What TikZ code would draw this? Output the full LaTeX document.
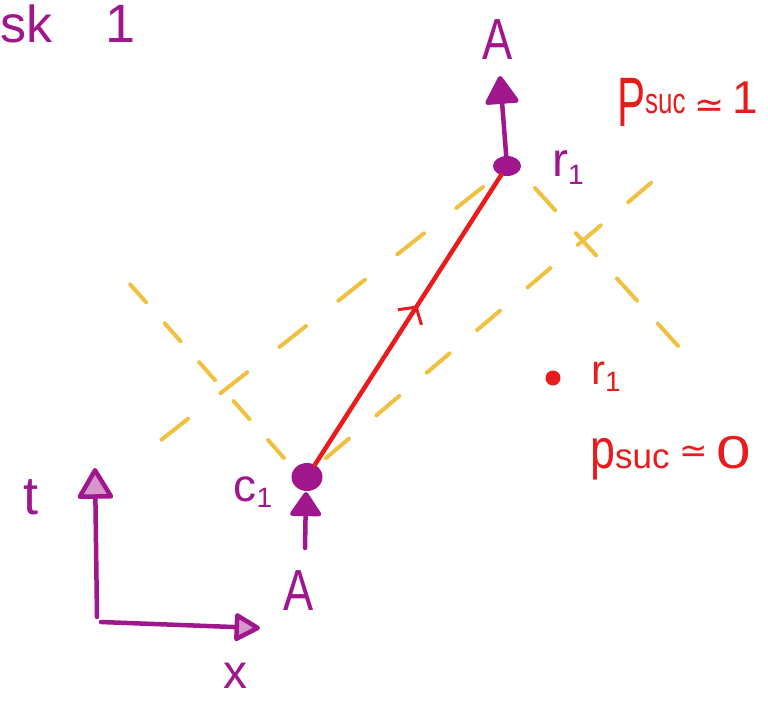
\documentclass[tikz,border=0pt]{standalone}
\usepackage{fontspec}
\setmainfont{Liberation Sans}
\newfontfamily\symfont{DejaVu Sans}
\usetikzlibrary{arrows.meta,decorations.markings,shapes.geometric}
\definecolor{purp}{RGB}{160,22,140}
\definecolor{inkred}{RGB}{232,28,28}
\definecolor{cone}{RGB}{240,192,64}
\newcommand{\lowidx}[2]{\raisebox{-#2}{\fontsize{28}{28}\selectfont #1}}
\newcommand{\fsz}[1]{\fontsize{#1}{#1}\selectfont}
\newcommand{\narrowtxt}[2]{\scalebox{#1}[1]{#2}}
\begin{document}
\begin{tikzpicture}[x=1pt,y=-1pt,
  hand/.style={line width=4.5pt,line cap=round,line join=round},
  purpline/.style={hand,draw=purp},
  lbl/.style={inner sep=0pt,text=purp},
  redlbl/.style={inner sep=0pt,text=inkred},
  conedash/.style={draw=cone,line width=4pt,line cap=round,dash pattern=#1},
]
\useasboundingbox (0,0) rectangle (768,702);

% yellow light-cone edges
\coordinate (flA) at (284,458); \coordinate (flB) at (129,283);
\coordinate (frA) at (326,458); \coordinate (frB) at (652,182);
\coordinate (blA) at (483,187); \coordinate (blB) at (161,440);
\coordinate (brA) at (535,188); \coordinate (brB) at (679,347);
\draw[conedash={on 24pt off 28pt}] (flA) -- (flB);
\draw[conedash={on 30pt off 36pt}] (frA) -- (frB);
\draw[conedash={on 34pt off 41pt}] (blA) -- (blB);
\draw[conedash={on 30pt off 31pt}] (brA) -- (brB);

% events
\coordinate (bstart) at (305,548);
\node[ellipse,fill=purp,minimum width=28pt,minimum height=20pt,inner sep=0pt] (rtop) at (507,166) {};
\draw[purpline,-{Triangle[round,length=26pt,width=34pt]}] (bstart) -- (306,492);
\node[ellipse,fill=purp,minimum width=31pt,minimum height=28pt,inner sep=0pt] (cbot) at (307,477) {};
\coordinate (toptip) at (500,76);
\draw[purpline,-{Triangle[round,length=30pt,width=36pt]}] (rtop) -- (toptip);

% red worldline
\draw[hand,draw=inkred,postaction={decorate,decoration={markings,
  mark=at position 0.55 with {\arrow[inkred,line width=3pt]{Straight Barb[length=12pt,width=28pt]}}}}]
  (cbot) -- (rtop);

% red event
\node[circle,fill=inkred,minimum size=15pt,inner sep=0pt] (rred) at (553,378) {};

% axes
\coordinate (O) at (97,617);
\coordinate (Oh) at (101,622);
\coordinate (ttip) at (95,468);
\coordinate (xtip) at (260,628);
\draw[purpline,-{Triangle[round,length=33pt,width=38pt,fill=purp!45]}] (O) -- (ttip);
\draw[purpline,-{Triangle[round,length=28pt,width=30pt,fill=purp!45]}] (Oh) -- (xtip);

% labels
\node[lbl,anchor=east,font=\fsz{52},text height=38pt,text depth=0pt] (sk) at (53,23) {sk};
\node[lbl,font=\fsz{54},text height=39pt,text depth=0pt] (one) at (121,23) {1};
\node[lbl,font=\fsz{58}] (Atop) at (498,40) {\narrowtxt{0.78}{A}};
\node[lbl,font=\fsz{58}] (Abot) at (299,591) {\narrowtxt{0.78}{A}};
\node[lbl,font=\fsz{48}] (rlab) at (568,168) {r\lowidx{1}{8pt}};
\node[lbl,font=\fsz{46}] (clab) at (253,492) {c\lowidx{1}{6pt}};
\node[lbl,font=\fsz{54}] (tlab) at (31,497) {t};
\node[lbl,font=\fsz{48},anchor=base] (xlab) at (235,688) {x};
\node[redlbl,font=\fsz{42}] (rredlab) at (606,377) {r\lowidx{1}{7pt}};

\node[redlbl,anchor=base west] (psuc1) at (617,113)
  {{\fsz{70}\raisebox{-13pt}{\narrowtxt{0.6}{P}}}{\fsz{36}\narrowtxt{0.72}{suc}}\hspace{9pt}{\symfont\fsz{36}\raisebox{-4pt}{≃}}\hspace{8pt}{\fsz{46}1}};
\node[redlbl,anchor=base west] (psuc0) at (590,468)
  {{\fsz{56}\narrowtxt{0.8}{p}}{\fsz{35}suc}\hspace{10pt}{\symfont\fsz{34}\raisebox{6pt}{≃}}\hspace{8pt}{\fsz{46}\narrowtxt{1.35}{0}}};
\end{tikzpicture}
\end{document}
